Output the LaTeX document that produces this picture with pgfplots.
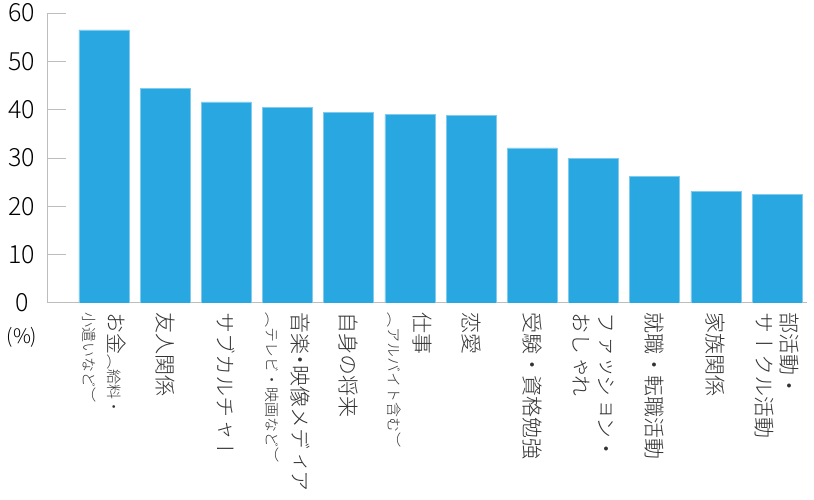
\documentclass[border=0pt]{standalone}
\usepackage{pgfplots}
\pgfplotsset{compat=1.18}
\usepackage{fontspec}
\setmainfont{Noto Sans CJK JP}[UprightFont=* Light]
\newfontfamily\vjp{Noto Sans CJK JP}[UprightFont=* Light, Vertical=RotatedGlyphs]
\usetikzlibrary{calc}
\definecolor{barblue}{HTML}{29A7E1}
\definecolor{axgray}{HTML}{BDBDBD}
\definecolor{txt}{HTML}{333333}
\newcommand{\Lg}{\fontsize{21}{25.5}\selectfont}
\newcommand{\Sm}{\fontsize{15}{25.5}\selectfont}

\begin{document}
\begin{tikzpicture}
\begin{axis}[
    scale only axis,
    width=759pt, height=290pt,
    xmin=-0.915, xmax=11.49,
    ymin=0, ymax=60,
    axis x line*=bottom, axis y line*=left,
    axis line style={draw=axgray, line width=1pt, -},
    ytick={0,10,...,60},
    tick align=inside,
    major tick length=18pt,
    y tick style={draw=axgray, line width=1pt},
    x tick style={draw=none},
    /pgf/number format/assume math mode=true,
    yticklabel style={font=\fontsize{25}{30}\selectfont, text=black, anchor=center, xshift=-26pt},
    xtick={0,...,11},
    xticklabels={
        {お金\Sm（給料・\\\Sm 小遣いなど）},
        {友人関係},
        {サブカルチャー},
        {音楽\kern-5pt・\kern-5pt映像メディア\\\Sm（テレビ・映画など）},
        {自身の将来},
        {仕事\\\Sm（アルバイト含む）},
        {恋愛},
        {受験・資格勉強},
        {ファッション・\\おしゃれ},
        {就職・転職活動},
        {家族関係},
        {部活動・\\サークル活動}
    },
    xticklabel style={font=\vjp\Lg, text=txt, align=left, rotate=-90, anchor=west, inner sep=0pt, xshift=-9pt},
    bar width=50pt,
    ybar,
]
\coordinate (O) at (rel axis cs:0,0);
\addplot[fill=barblue, draw=barblue!60!white, line width=0.6pt] coordinates {
    (0,56.5) (1,44.4) (2,41.6) (3,40.4) (4,39.4) (5,39.0)
    (6,38.8) (7,32.1) (8,30.0) (9,26.2) (10,23.1) (11,22.4)
};
\end{axis}
\node[font=\fontsize{20}{24}\selectfont, text=black] at ($(O)+(-26pt,-34pt)$) {(\%)};
\pgfresetboundingbox
\path ($(O)+(-48pt,-197pt)$) rectangle ($(O)+(766pt,303pt)$);
\end{tikzpicture}
\end{document}
